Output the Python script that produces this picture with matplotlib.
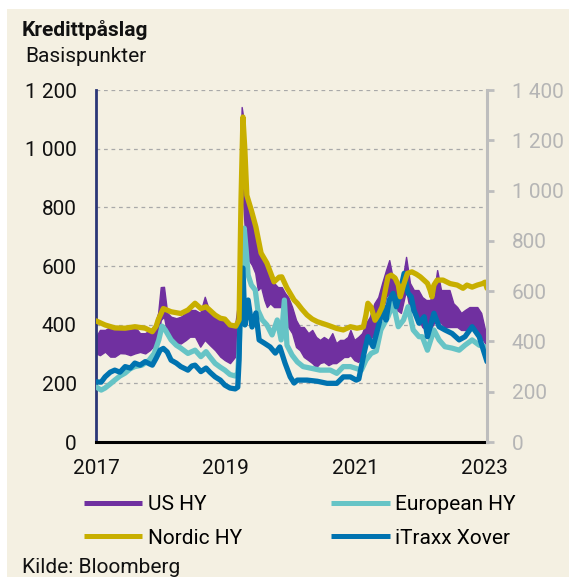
import numpy as np
import matplotlib
matplotlib.use("Agg")
import matplotlib.pyplot as plt
from matplotlib.lines import Line2D
from matplotlib.patches import Rectangle
from matplotlib.ticker import FuncFormatter

plt.rcParams["font.family"] = ["Roboto", "DejaVu Sans"]

CREAM = "#F4F0E2"
C_US = "#7030A0"
C_EU = "#66C4C6"
C_NO = "#C8AF00"
C_IT = "#0073B0"

# ── data (basis points) ───────────────────────────────────────────────────────
us_x = [2017.00, 2017.06, 2017.14, 2017.22, 2017.29, 2017.37, 2017.45, 2017.53, 2017.60, 2017.68,
        2017.76, 2017.83, 2017.90, 2017.96, 2018.00, 2018.05, 2018.10, 2018.16, 2018.24, 2018.31,
        2018.39, 2018.45, 2018.53, 2018.61, 2018.68, 2018.76, 2018.84, 2018.92, 2018.99, 2019.07,
        2019.15, 2019.19, 2019.23, 2019.25, 2019.27, 2019.30, 2019.33, 2019.36, 2019.41, 2019.46,
        2019.50, 2019.55, 2019.60, 2019.64, 2019.69, 2019.75, 2019.81, 2019.87, 2019.92, 2019.97,
        2020.03, 2020.09, 2020.15, 2020.21, 2020.28, 2020.34, 2020.40, 2020.46, 2020.52, 2020.59,
        2020.65, 2020.71, 2020.77, 2020.83, 2020.89, 2020.93, 2020.99, 2021.05, 2021.11, 2021.17,
        2021.23, 2021.30, 2021.36, 2021.42, 2021.48, 2021.53, 2021.59, 2021.65, 2021.71, 2021.79,
        2021.85, 2021.91, 2021.98, 2022.04, 2022.10, 2022.16, 2022.22, 2022.27, 2022.33, 2022.39,
        2022.46, 2022.52, 2022.58, 2022.64, 2022.70, 2022.77, 2022.83, 2022.89, 2022.95, 2023.01,
        2023.04]
us_hi = [359, 382, 382, 392, 393, 382, 393, 382, 393, 371,
         371, 382, 395, 440, 528, 529, 440, 427, 422, 427,
         440, 450, 450, 440, 495, 440, 427, 422, 416, 393,
         399, 467, 961, 1142, 1114, 893, 859, 825, 773, 688,
         671, 654, 620, 586, 569, 542, 528, 528, 508, 494,
         460, 416, 392, 392, 371, 382, 358, 348, 358, 348,
         371, 337, 348, 348, 358, 382, 348, 358, 371, 405,
         427, 473, 494, 542, 586, 620, 552, 528, 518, 631,
         542, 518, 518, 494, 484, 484, 508, 586, 518, 518,
         518, 473, 460, 440, 450, 460, 460, 460, 440, 382,
         371]
us_lo = [302, 296, 308, 291, 291, 303, 302, 296, 302, 307,
         302, 313, 330, 348, 416, 427, 371, 348, 337, 336,
         348, 359, 359, 325, 348, 330, 313, 291, 279, 269,
         291, 348, 654, 893, 825, 722, 671, 620, 603, 576,
         518, 528, 484, 460, 473, 460, 460, 460, 416, 392,
         371, 324, 313, 290, 279, 269, 255, 269, 273, 262,
         269, 269, 279, 290, 290, 296, 279, 273, 290, 330,
         348, 371, 382, 440, 494, 508, 440, 450, 440, 518,
         450, 440, 426, 392, 382, 382, 405, 416, 405, 392,
         392, 392, 392, 382, 382, 382, 392, 382, 358, 337,
         330]

eu_x = [2017.00, 2017.08, 2017.14, 2017.22, 2017.29, 2017.37, 2017.45, 2017.53, 2017.60, 2017.71,
        2017.82, 2017.90, 2017.97, 2018.02, 2018.07, 2018.16, 2018.24, 2018.31, 2018.42, 2018.53,
        2018.62, 2018.70, 2018.76, 2018.84, 2018.92, 2018.99, 2019.07, 2019.15, 2019.19, 2019.21,
        2019.24, 2019.29, 2019.32, 2019.35, 2019.40, 2019.46, 2019.50, 2019.57, 2019.64, 2019.72,
        2019.80, 2019.86, 2019.91, 2019.95, 2020.03, 2020.11, 2020.20, 2020.31, 2020.46, 2020.62,
        2020.72, 2020.82, 2020.93, 2021.03, 2021.10, 2021.17, 2021.25, 2021.33, 2021.40, 2021.51,
        2021.59, 2021.67, 2021.75, 2021.82, 2021.90, 2021.99, 2022.04, 2022.12, 2022.22, 2022.30,
        2022.39, 2022.50, 2022.61, 2022.70, 2022.81, 2022.92, 2023.00, 2023.04]
eu_v = [188, 177, 184, 198, 211, 225, 235, 250, 257, 262,
        279, 302, 348, 395, 382, 348, 330, 320, 302, 313,
        291, 308, 290, 268, 255, 245, 230, 225, 235, 313,
        484, 729, 654, 569, 535, 518, 450, 416, 399, 365,
        416, 348, 484, 330, 296, 273, 257, 252, 245, 245,
        234, 257, 257, 250, 245, 279, 302, 310, 382, 427,
        473, 393, 416, 461, 382, 359, 359, 313, 382, 348,
        325, 320, 313, 330, 348, 330, 325, 313]

no_x = [2017.00, 2017.14, 2017.29, 2017.45, 2017.60, 2017.76, 2017.87, 2017.93, 2017.96, 2018.04,
        2018.16, 2018.31, 2018.42, 2018.53, 2018.62, 2018.70, 2018.84, 2018.92, 2018.99, 2019.07,
        2019.16, 2019.21, 2019.24, 2019.27, 2019.30, 2019.33, 2019.40, 2019.47, 2019.55, 2019.64,
        2019.75, 2019.83, 2019.87, 2019.95, 2020.06, 2020.11, 2020.18, 2020.26, 2020.34, 2020.42,
        2020.57, 2020.72, 2020.82, 2020.93, 2021.03, 2021.13, 2021.17, 2021.20, 2021.25, 2021.31,
        2021.36, 2021.42, 2021.47, 2021.51, 2021.56, 2021.62, 2021.67, 2021.70, 2021.75, 2021.81,
        2021.88, 2021.95, 2022.01, 2022.12, 2022.16, 2022.19, 2022.22, 2022.27, 2022.36, 2022.47,
        2022.58, 2022.67, 2022.73, 2022.81, 2022.89, 2022.97, 2023.01, 2023.04]
no_v = [413, 399, 389, 388, 393, 388, 376, 395, 416, 455,
        444, 438, 450, 473, 455, 461, 433, 422, 419, 399,
        395, 416, 825, 1108, 995, 841, 790, 733, 644, 610,
        546, 562, 563, 525, 484, 473, 453, 433, 419, 410,
        399, 387, 382, 393, 388, 392, 433, 473, 460, 415,
        433, 461, 518, 563, 569, 559, 535, 495, 535, 575,
        580, 572, 563, 541, 518, 495, 535, 552, 552, 540,
        535, 524, 535, 528, 535, 540, 545, 524]

it_x = [2017.00, 2017.08, 2017.14, 2017.22, 2017.29, 2017.37, 2017.45, 2017.53, 2017.60, 2017.68,
        2017.76, 2017.83, 2017.87, 2017.93, 2017.99, 2018.04, 2018.10, 2018.16, 2018.24, 2018.31,
        2018.42, 2018.48, 2018.53, 2018.62, 2018.70, 2018.76, 2018.84, 2018.92, 2018.99, 2019.07,
        2019.15, 2019.19, 2019.21, 2019.24, 2019.27, 2019.30, 2019.35, 2019.41, 2019.47, 2019.52,
        2019.60, 2019.69, 2019.77, 2019.84, 2019.92, 2020.00, 2020.06, 2020.11, 2020.26, 2020.42,
        2020.57, 2020.72, 2020.82, 2020.93, 2021.02, 2021.06, 2021.14, 2021.20, 2021.28, 2021.36,
        2021.44, 2021.48, 2021.53, 2021.59, 2021.64, 2021.68, 2021.76, 2021.82, 2021.87, 2021.91,
        2021.99, 2022.07, 2022.12, 2022.22, 2022.30, 2022.39, 2022.50, 2022.61, 2022.70, 2022.81,
        2022.92, 2023.00, 2023.04]
it_v = [205, 204, 222, 238, 245, 238, 257, 252, 269, 262,
        274, 266, 262, 286, 313, 319, 307, 279, 269, 257,
        245, 259, 262, 240, 252, 238, 222, 211, 194, 184,
        181, 187, 279, 586, 593, 399, 484, 392, 440, 348,
        337, 324, 303, 324, 269, 222, 201, 211, 211, 207,
        200, 200, 222, 222, 211, 215, 302, 359, 325, 393,
        461, 416, 484, 507, 461, 495, 575, 507, 495, 450,
        405, 427, 359, 439, 393, 382, 370, 348, 359, 393,
        359, 302, 274]

left_ticks = [0, 200, 400, 600, 800, 1000, 1200]
right_ticks = [0, 200, 400, 600, 800, 1000, 1200, 1400]
year_ticks = [2017, 2019, 2021, 2023]


def space_thousands(v, _pos=None):
    return f"{v:,.0f}".replace(",", " ")


W, H = 569, 577
fig = plt.figure(figsize=(W / 100, H / 100), dpi=100, facecolor="white")
fig.patches.append(Rectangle((7 / W, 0), 1, 1 - 9 / H, transform=fig.transFigure,
                             facecolor=CREAM, edgecolor="none", zorder=-10))

ax = fig.add_axes([96 / W, 1 - 442 / H, 391 / W, 352 / H])
ax.set_facecolor("none")
ax2 = ax.twinx()

ax.fill_between(us_x, us_lo, us_hi, color=C_US, lw=1.0, zorder=2)
ax.plot(eu_x, eu_v, color=C_EU, lw=3.8, solid_capstyle="round", solid_joinstyle="round", zorder=3)
ax.plot(it_x, it_v, color=C_IT, lw=3.8, solid_capstyle="round", solid_joinstyle="round", zorder=4)
ax.plot(no_x, no_v, color=C_NO, lw=3.8, solid_capstyle="round", solid_joinstyle="round", zorder=5)

ax.set_xlim(2017, 2023.04)
ax.set_ylim(0, 1200)
ax2.set_ylim(0, 1400)
ax.set_xticks(year_ticks)
ax.set_xticklabels([str(y) for y in year_ticks])
ax.set_yticks(left_ticks)
ax.yaxis.set_major_formatter(FuncFormatter(space_thousands))
ax2.set_yticks(right_ticks)
ax2.yaxis.set_major_formatter(FuncFormatter(space_thousands))

ax.yaxis.grid(True, linestyle=(0, (3, 3)), color="#A9A9A9", lw=0.9)
ax.set_axisbelow(True)

ax.tick_params(axis="y", length=0, pad=14, labelsize=15, colors="#111111")
ax.tick_params(axis="x", length=0, pad=12, labelsize=15, colors="#111111")
ax2.tick_params(axis="y", length=5, width=2, pad=13, labelsize=15,
                color="#BDBDBD", labelcolor="#B5B5B5")

for s in ("top", "right"):
    ax.spines[s].set_visible(False)
for s in ("top", "left", "bottom"):
    ax2.spines[s].set_visible(False)
ax.spines["left"].set_color("#2B3677")
ax.spines["left"].set_linewidth(2)
ax.spines["bottom"].set_color("black")
ax.spines["bottom"].set_linewidth(2.2)
ax2.spines["right"].set_color("#BDBDBD")
ax2.spines["right"].set_linewidth(2.2)

fig.text(22 / W, 1 - 36 / H, "Kredittpåslag", fontsize=15, fontweight="bold",
         va="baseline", color="#111111")
fig.text(25 / W, 1 - 62 / H, "Basispunkter", fontsize=15, va="baseline", color="#111111")
fig.text(22 / W, 1 - 573 / H, "Kilde: Bloomberg", fontsize=15, va="baseline", color="#111111")

handles = [Line2D([], [], color=c, lw=3.6, solid_capstyle="butt")
           for c in (C_US, C_NO, C_EU, C_IT)]
labels = ["US HY", "Nordic HY", "European HY", "iTraxx Xover"]
fig.legend(handles=handles, labels=labels, ncol=2, loc="upper left",
           bbox_to_anchor=(84 / W, 1 - 495 / H),
           frameon=False, fontsize=15, handlelength=2.8, handletextpad=0.25,
           columnspacing=4.3, labelspacing=0.7, borderpad=0, borderaxespad=0)

fig.savefig("out.png", dpi=100, facecolor="white")
